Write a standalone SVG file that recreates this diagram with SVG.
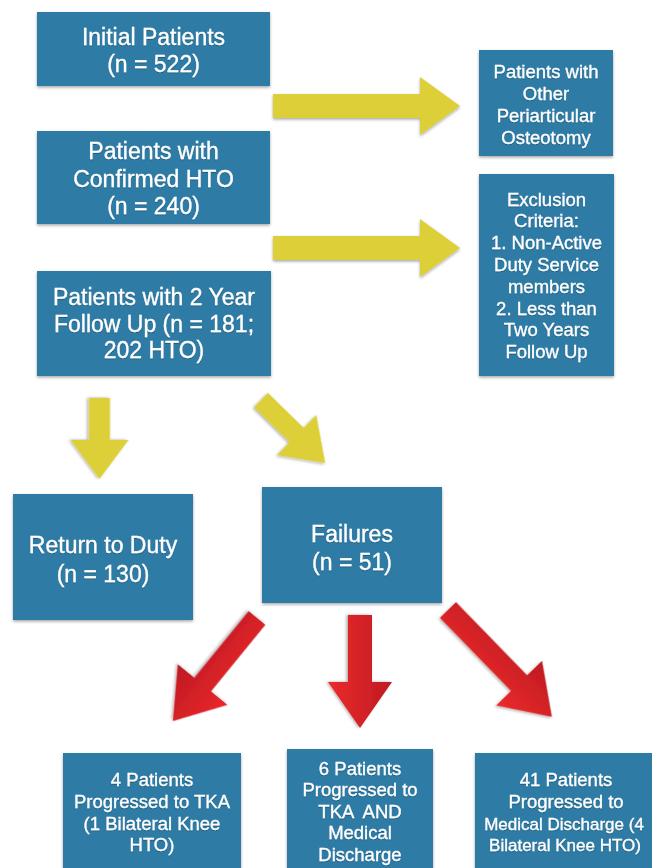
<svg xmlns="http://www.w3.org/2000/svg" width="652" height="868" viewBox="0 0 652 868">
<defs>
<filter id="sh" x="-10%" y="-10%" width="120%" height="125%">
<feDropShadow dx="0" dy="1.5" stdDeviation="1.5" flood-color="#000" flood-opacity="0.35"/>
</filter>
<filter id="tsh" x="-3%" y="-20%" width="106%" height="140%">
<feDropShadow dx="0" dy="0.8" stdDeviation="0.6" flood-color="#000" flood-opacity="0.35"/>
</filter>
<linearGradient id="redL" gradientUnits="userSpaceOnUse" x1="0" y1="-30" x2="0" y2="30">
<stop offset="0" stop-color="#e8272b"/><stop offset="1" stop-color="#bf1a22"/>
</linearGradient>
<linearGradient id="redR" gradientUnits="userSpaceOnUse" x1="0" y1="-30" x2="0" y2="30">
<stop offset="0" stop-color="#c01b22"/><stop offset="1" stop-color="#ea2a2b"/>
</linearGradient>
<polygon id="yArrowH" points="0,-12 147,-12 147,-29 187,0 147,29 147,12 0,12"/>
</defs>
<style>
.box{fill:#2f7ca5;filter:url(#sh);}
.t{fill:#ffffff;stroke:#ffffff;stroke-width:0.3px;font-family:"Liberation Sans",Arial,Helvetica,sans-serif;text-anchor:middle;filter:url(#tsh);}
.big{font-size:23px;}
.sm{font-size:18.5px;}
.xs{font-size:17px;}
.yel{fill:#dccf37;filter:url(#sh);}
.red{filter:url(#sh);}
</style>
<rect width="652" height="868" fill="#ffffff"/>

<g id="connectors">
<use href="#yArrowH" class="yel" transform="translate(273,106)"/>
<use href="#yArrowH" class="yel" transform="translate(273,248)"/>
<polygon class="yel" transform="translate(99.5,398) rotate(90)" points="0,-10.5 42,-10.5 42,-29 81,0 42,29 42,10.5 0,10.5"/>
<polygon class="yel" transform="translate(261,400) rotate(44.5)" points="0,-10 50,-10 50,-28 90,0 50,28 50,10 0,10"/>
<polygon class="red" fill="url(#redL)" transform="translate(257,618) rotate(129.2)" points="0,-10.7 86,-10.7 86,-32 133,0 86,32 86,10.7 0,10.7"/>
<polygon class="red" fill="url(#redR)" transform="translate(360,615) rotate(90)" points="0,-12 67,-12 67,-32 113,0 67,32 67,12 0,12"/>
<polygon class="red" fill="url(#redR)" transform="translate(448,610) rotate(45.8)" points="0,-11.3 102,-11.3 102,-32 149,0 102,32 102,11.3 0,11.3"/>
</g>

<g id="initial">
<rect class="box" x="37" y="12" width="233" height="74"/>
<text class="t big" x="153.5" y="45">Initial Patients</text>
<text class="t big" x="153.5" y="71.5">(n = 522)</text>
</g>

<g id="confirmed">
<rect class="box" x="37" y="131" width="233" height="93"/>
<text class="t big" x="153.5" y="158.5">Patients with</text>
<text class="t big" x="153.5" y="186.5">Confirmed HTO</text>
<text class="t big" x="153.5" y="214">(n = 240)</text>
</g>

<g id="followup">
<rect class="box" x="37" y="271" width="234" height="105"/>
<text class="t big" x="154" y="305">Patients with 2 Year</text>
<text class="t big" x="154" y="331.5">Follow Up (n = 181;</text>
<text class="t big" x="154" y="358">202 HTO)</text>
</g>

<g id="other">
<rect class="box" x="479" y="50" width="134" height="106"/>
<text class="t sm" x="546" y="78">Patients with</text>
<text class="t sm" x="546" y="100">Other</text>
<text class="t sm" x="546" y="122">Periarticular</text>
<text class="t sm" x="546" y="144">Osteotomy</text>
</g>

<g id="exclusion">
<rect class="box" x="479" y="174" width="135" height="202"/>
<text class="t sm" x="546.5" y="205.5">Exclusion</text>
<text class="t sm" x="546.5" y="227.3">Criteria:</text>
<text class="t sm" x="546.5" y="249.1">1. Non-Active</text>
<text class="t sm" x="546.5" y="270.9">Duty Service</text>
<text class="t sm" x="546.5" y="292.7">members</text>
<text class="t sm" x="546.5" y="314.5">2. Less than</text>
<text class="t sm" x="546.5" y="336.3">Two Years</text>
<text class="t sm" x="546.5" y="358.1">Follow Up</text>
</g>

<g id="return">
<rect class="box" x="13" y="494" width="180" height="126"/>
<text class="t big" x="103" y="552.5">Return to Duty</text>
<text class="t big" x="103" y="581.5">(n = 130)</text>
</g>

<g id="failures">
<rect class="box" x="262" y="487" width="180" height="116"/>
<text class="t big" x="352" y="541.5">Failures</text>
<text class="t big" x="352" y="570">(n = 51)</text>
</g>

<g id="tka">
<rect class="box" x="63" y="753" width="178" height="125"/>
<text class="t sm" x="152" y="786">4 Patients</text>
<text class="t sm" x="152" y="807.8">Progressed to TKA</text>
<text class="t sm" x="152" y="829.6">(1 Bilateral Knee</text>
<text class="t sm" x="152" y="851.4">HTO)</text>
</g>

<g id="tka-discharge">
<rect class="box" x="287" y="749" width="146" height="129"/>
<text class="t sm" x="360" y="774.5">6 Patients</text>
<text class="t sm" x="360" y="796">Progressed to</text>
<text class="t sm" x="360" y="817.5" xml:space="preserve">TKA  AND</text>
<text class="t sm" x="360" y="839">Medical</text>
<text class="t sm" x="360" y="860.5">Discharge</text>
</g>

<g id="discharge">
<rect class="box" x="475" y="753" width="177" height="125"/>
<text class="t sm" x="566" y="786">41 Patients</text>
<text class="t sm" x="566" y="807.8">Progressed to</text>
<text class="t xs" x="564" y="829.6">Medical Discharge (4</text>
<text class="t xs" x="565" y="851.4">Bilateral Knee HTO)</text>
</g>
</svg>
